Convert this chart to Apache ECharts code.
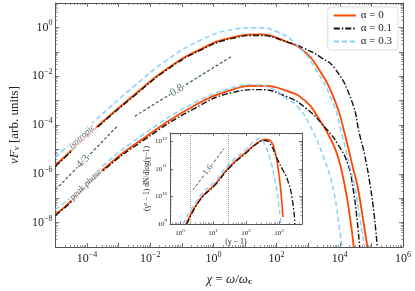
<!DOCTYPE html>
<html><head><meta charset="utf-8">
<script src="https://cdn.jsdelivr.net/npm/echarts@6/dist/echarts.min.js"></script>
<style>html,body{margin:0;padding:0;background:#fff}#c{width:415px;height:291px}</style>
</head><body><div id="c"></div>
<script>
// ---------- data ----------
const legendNames = ['α = 0', 'α = 0.1', 'α = 0.3'];

// main panel: [chi, nuF_nu]  -- "isotropic" group
const isoA0 = [[1e-5,2.24e-6],[2.71e-5,7.41e-6],[1.86e-4,7.59e-5],[3.22e-3,1.78e-3],[3.38e-2,2.0e-2],[0.382,0.126],[4.02,0.389],[27.5,0.513],[233,0.245],[731,0.105],[2130,0.020],[7140,9.33e-4],[14600,3.98e-5],[25800,1.86e-6],[36900,2.88e-7],[52600,1.78e-8],[75200,1e-9]];
const isoA01 = [[1e-5,2.04e-6],[2.71e-5,6.76e-6],[1.86e-4,6.92e-5],[3.22e-3,1.62e-3],[3.38e-2,1.82e-2],[0.382,0.115],[4.02,0.355],[27.5,0.468],[233,0.245],[731,0.140],[2450,0.0603],[7140,0.020],[24000,9.33e-4],[42500,3.98e-5],[60700,6.17e-6],[93100,2.88e-7],[124000,1.78e-8],[153000,1e-9]];
const isoA03 = [[1e-5,4.68e-6],[2.71e-5,1.55e-5],[1.86e-4,1.58e-4],[3.22e-3,4.07e-3],[3.38e-2,4.57e-2],[0.382,0.295],[4.02,0.813],[20.7,0.977],[99.3,0.676],[476,0.170],[1720,0.020],[5780,9.33e-4],[11800,3.98e-5],[20800,1.86e-6],[29800,2.88e-7],[42500,1.78e-8],[60700,1e-9]];
// "peak phase" group
const peakA0 = [[1e-5,2.14e-8],[2.71e-5,6.46e-8],[3.06e-4,1.41e-6],[6.56e-3,3.02e-5],[0.232,5.89e-4],[4.02,2.82e-3],[27.5,4.07e-3],[203,2.57e-3],[843,9.33e-4],[2130,1.91e-4],[4340,3.98e-5],[8250,6.17e-6],[14600,2.88e-7],[20800,1.78e-8],[27700,1e-9]];
const peakA01 = [[1e-5,1.95e-8],[2.71e-5,5.89e-8],[3.06e-4,1.26e-6],[6.56e-3,2.51e-5],[0.232,4.47e-4],[4.02,2.14e-3],[27.5,2.82e-3],[203,1.48e-3],[843,4.90e-4],[3510,7.59e-5],[8850,1.55e-5],[18100,2.45e-6],[25800,2.88e-7],[34400,1.78e-8],[42500,1e-9]];
const peakA03 = [[1e-5,3.39e-8],[2.71e-5,9.55e-8],[3.06e-4,2.04e-6],[6.56e-3,4.37e-5],[0.232,7.76e-4],[4.02,3.39e-3],[16.7,4.47e-3],[69.5,3.09e-3],[203,1.23e-3],[512,4.90e-4],[1390,5.75e-5],[2830,6.17e-6],[5010,7.24e-7],[7140,9.55e-8],[9500,7.08e-9],[11800,1e-9]];

// reference power-law segments
const slope43 = [[1e-5,2.19e-7],[8.9e-4,8.7e-5]];
const slope08 = [[3.24e-3,2.29e-4],[3.98,6.76e-2]];

// inset: [gamma-1, (gamma^2-1) dN/dlog(gamma-1)]
const insetA0 = [[1.52,1e9],[4.04,7.94e9],[11.5,2.78e10],[32.7,1.24e11],[107,4.32e11],[231,9.1e11],[404,1.17e12],[573,1.0e12],[757,4.32e11],[933,1.15e11],[1150,1.43e10],[1320,1.78e9]];
const insetA01 = [[1.63,1e9],[4.04,7.37e9],[11.5,2.57e10],[32.7,1.15e11],[107,3.98e11],[231,8.7e11],[377,1.07e12],[534,8.4e11],[869,2.4e11],[1320,8.9e10],[1750,4.57e10],[2480,9.4e9],[3050,1e9]];
const insetA03 = [[1.23,1e9],[4.04,1.02e10],[11.5,3.55e10],[32.7,1.59e11],[107,5.5e11],[187,1.07e12],[266,1.26e12],[377,7.1e11],[534,2.4e11],[757,3.89e10],[933,8.7e9],[1150,1e9]];
const slope16 = [[2.48,1.7e10],[21.5,5.4e11]];
const insetMarks = [2, 28];

// annotations: text and anchor point
const annoText = ['isotropic', 'peak phase', '4/3', '0.8'];
const annoAt = [[6.9e-5,3.3e-5],[9.1e-5,3.55e-7],[7.4e-5,3.16e-6],[6.9e-2,2.63e-3]];
const insetAnnoText = ['1.6'];
const insetAnnoAt = [[7.05,9.2e10]];

// axis ranges (decades)
const mainX = [-5, 6], mainY = [-9, 1];
const insX = [Math.log10(0.5), Math.log10(5000)], insY = [9, Math.log10(2e12)];
const mainXLabels = [-4,-2,0,2,4,6], mainYLabels = [-8,-6,-4,-2,0];
const insXLabels = [0,1,2,3], insYLabels = [9,10,11,12];

// ---------- helpers ----------
const L = v => Math.log10(v);
const toLog = arr => arr.map(p => [L(p[0]), L(p[1])]);
const FF = 'Liberation Serif, DejaVu Serif, serif';
const AX = '#555';
const C0 = '#FF4500', C1 = '#111111', C3 = '#87CEFA', CS = '#2F4F4F';

function majors(lo, hi){ const r=[]; for(let e=Math.ceil(lo-1e-9); e<=Math.floor(hi+1e-9); e++) r.push(e); return r; }
function minors(lo, hi){ const r=[]; for(let e=Math.floor(lo); e<=Math.ceil(hi); e++){ for(let k=2;k<=9;k++){ const v=e+Math.log10(k); if(v>lo+1e-6 && v<hi-1e-6) r.push(v);} } return r; }
function powFmt(v){ const e=Math.round(v); const s = e<0 ? '\u2212'+(-e) : ''+e; return '{b|10}{e|'+s+'}'; }

function axisPair(dim, pos, grid, range, labels, fs, len, extra){
  const base = {
    type:'value', gridIndex:grid, position:pos, min:range[0], max:range[1],
    splitLine:{show:false}, silent:true
  };
  const major = Object.assign({}, base, {
    axisLine:{show:true, onZero:false, lineStyle:{color:AX, width:1}},
    axisTick:{show:true, inside:true, length:len, customValues:majors(range[0],range[1]), lineStyle:{color:AX, width:0.8}},
    axisLabel: labels ? {show:true, customValues:labels, formatter:powFmt, margin: dim==='x'?4:3, color:'#222',
      rich:{ b:{fontFamily:FF, fontSize:fs, color:'#222', lineHeight:fs+4}, e:{fontFamily:FF, fontSize:Math.round(fs*0.68), color:'#222', verticalAlign:'top', lineHeight:fs*0.75} } } : {show:false}
  }, extra||{});
  const minor = Object.assign({}, base, {
    axisLine:{show:false, onZero:false},
    axisTick:{show:true, inside:true, length:len/2, customValues:minors(range[0],range[1]), lineStyle:{color:AX, width:0.6}},
    axisLabel:{show:false}
  });
  return [major, minor];
}

const xAxes = [].concat(
  axisPair('x','bottom',0,mainX,mainXLabels,12,4,{
    name:'{i|χ}{a| = }{i|ω}{a|/}{i|ω}{s|c}', nameLocation:'middle', nameGap:26,
    nameTextStyle:{rich:{i:{fontFamily:FF,fontStyle:'italic',fontSize:13,color:'#222'},a:{fontFamily:FF,fontSize:13,color:'#222'},s:{fontFamily:FF,fontSize:9,fontWeight:'bold',color:'#222',verticalAlign:'bottom',lineHeight:10}}}
  }),
  axisPair('x','top',0,mainX,null,12,4),
  axisPair('x','bottom',1,insX,insXLabels,7,3,{
    name:'(γ − 1)', nameLocation:'middle', nameGap:12,
    nameTextStyle:{fontFamily:FF, fontSize:8, color:'#222'}
  }),
  axisPair('x','top',1,insX,null,7,3)
);
const yAxes = [].concat(
  axisPair('y','left',0,mainY,mainYLabels,12,4,{
    name:'{i|νF}{s|ν}{a| [arb. units]}', nameLocation:'middle', nameGap:27,
    nameTextStyle:{rich:{i:{fontFamily:FF,fontStyle:'italic',fontSize:13,color:'#222'},a:{fontFamily:FF,fontSize:13,color:'#222'},s:{fontFamily:FF,fontStyle:'italic',fontSize:9,color:'#222',verticalAlign:'bottom',lineHeight:10}}}
  }),
  axisPair('y','right',0,mainY,null,12,4),
  axisPair('y','left',1,insY,insYLabels,7,3,{
    name:'(γ² − 1) dN/dlog(γ−1)', nameLocation:'middle', nameGap:17,
    nameTextStyle:{fontFamily:FF, fontSize:7.5, color:'#222'}
  }),
  axisPair('y','right',1,insY,null,7,3)
);

function curve(name, data, color, width, type, xi, yi, z){
  return {type:'line', name:name, xAxisIndex:xi, yAxisIndex:yi, data:toLog(data),
    symbol:'none', showSymbol:false, smooth:0.5, clip:true, silent:true,
    lineStyle:{color:color, width:width, type:type}, itemStyle:{color:color}, z:z, animation:false};
}
const dashB = [5,3], dashK = [6,2,1.5,2], dashS = [3,2];

function annoItem(text, at, rot, fs, italic, color){
  return {value:[L(at[0]), L(at[1])], label:{show:true, position:'inside', formatter:text, rotate:rot,
    fontFamily:FF, fontStyle: italic?'italic':'normal', fontSize:fs, color:color, backgroundColor:'#fff', padding:[0,1]}};
}

const series = [
  curve(legendNames[0], isoA0, C0, 1.8, 'solid', 0, 0, 3),
  curve(legendNames[1], isoA01, C1, 1.4, dashK, 0, 0, 4),
  curve(legendNames[2], isoA03, C3, 1.5, dashB, 0, 0, 5),
  curve(legendNames[0], peakA0, C0, 1.8, 'solid', 0, 0, 3),
  curve(legendNames[1], peakA01, C1, 1.4, dashK, 0, 0, 4),
  curve(legendNames[2], peakA03, C3, 1.5, dashB, 0, 0, 5),
  curve('slope 4/3', slope43, CS, 1.1, dashS, 0, 0, 2),
  curve('slope 0.8', slope08, CS, 1.1, dashS, 0, 0, 2),
  {type:'scatter', xAxisIndex:0, yAxisIndex:0, symbolSize:1, itemStyle:{color:'rgba(0,0,0,0)'}, silent:true, z:20, animation:false,
    data:[
      annoItem(annoText[0], annoAt[0], 43, 9, true, '#444'),
      annoItem(annoText[1], annoAt[1], 44, 9, true, '#444'),
      annoItem(annoText[2], annoAt[2], 45, 11, false, CS),
      annoItem(annoText[3], annoAt[3], 32, 11, false, CS)
    ]},
  Object.assign(curve('inset α=0', insetA0, C0, 1.6, 'solid', 6, 6, 13), {
    markLine:{silent:true, symbol:'none', animation:false, label:{show:false},
      lineStyle:{color:'#999', type:'dotted', width:1},
      data: insetMarks.map(v => ({xAxis:L(v)}))}
  }),
  curve('inset α=0.1', insetA01, C1, 1.3, dashK, 6, 6, 14),
  curve('inset α=0.3', insetA03, C3, 1.4, dashB, 6, 6, 15),
  curve('slope 1.6', slope16, CS, 1.0, dashS, 6, 6, 12),
  {type:'scatter', xAxisIndex:6, yAxisIndex:6, symbolSize:1, itemStyle:{color:'rgba(0,0,0,0)'}, silent:true, z:20, animation:false,
    data:[ annoItem(insetAnnoText[0], insetAnnoAt[0], 53, 9, false, CS) ]}
];

const option = {
  animation:false,
  backgroundColor:'#fff',
  grid:[
    {left:49, right:12, top:3, bottom:40},
    {left:170, top:133, width:132, height:91, show:true, backgroundColor:'#fff', borderWidth:0}
  ],
  xAxis: xAxes,
  yAxis: yAxes,
  legend:{
    data:legendNames, orient:'vertical', right:17, top:7,
    backgroundColor:'#fff', borderColor:'#ddd', borderWidth:1, borderRadius:3,
    padding:[3,6,3,5], itemGap:2, itemWidth:22, itemHeight:8,
    itemStyle:{opacity:0},
    textStyle:{fontFamily:FF, fontSize:11, color:'#222'}
  },
  series: series
};
const chart = echarts.init(document.getElementById('c'), null, {renderer:'canvas'});
chart.setOption(option);
</script>
</body></html>
